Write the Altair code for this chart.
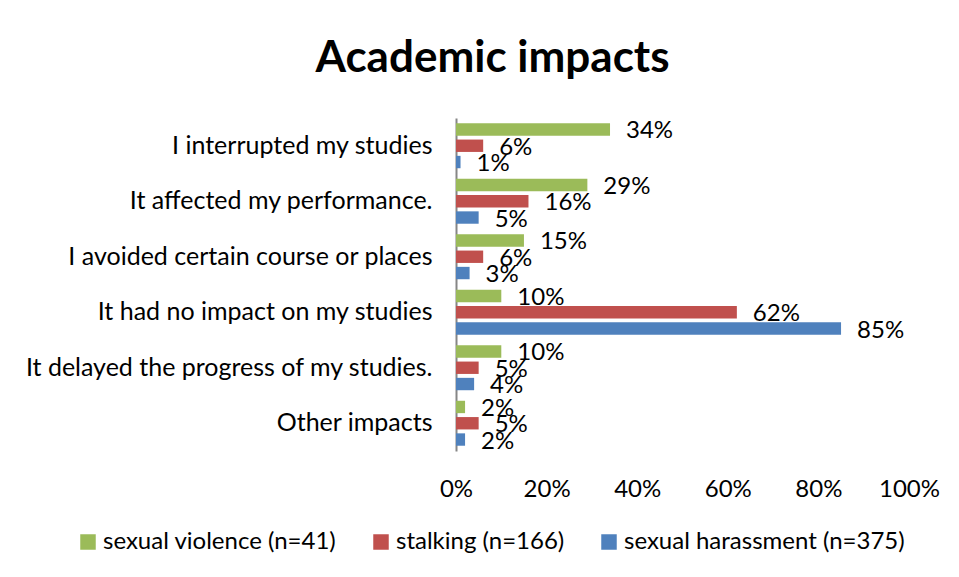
import altair as alt
import pandas as pd

categories = [
    "I interrupted my studies",
    "It affected my performance.",
    "I avoided certain course or places",
    "It had no impact on my studies",
    "It delayed the progress of my studies.",
    "Other impacts",
]
series = ["sexual violence (n=41)", "stalking (n=166)", "sexual harassment (n=375)"]
sexual_violence = [34, 29, 15, 10, 10, 2]
stalking = [6, 16, 6, 62, 5, 5]
sexual_harassment = [1, 5, 3, 85, 4, 2]
colors = ["#9BBB59", "#C0504D", "#4F81BD"]

rows = []
for i, c in enumerate(categories):
    for s, vals in zip(series, [sexual_violence, stalking, sexual_harassment]):
        rows.append({"category": c, "series": s, "value": vals[i] / 100, "label": f"{vals[i]}%"})
df = pd.DataFrame(rows)

FONT = "Lato"

y_enc = alt.Y("category:N", sort=categories,
              scale=alt.Scale(paddingInner=0.19, paddingOuter=0.095),
              axis=alt.Axis(title=None, ticks=False, domainColor="#868686", domainWidth=2,
                            labelFontSize=25, labelColor="black", labelPadding=24,
                            labelLimit=600, labelFont=FONT))
yoff = alt.YOffset("series:N", sort=series, scale=alt.Scale(paddingInner=0.24))
x_enc = alt.X("value:Q", scale=alt.Scale(domain=[0, 1]),
              axis=alt.Axis(title=None, values=[0, 0.2, 0.4, 0.6, 0.8, 1.0], format=".0%",
                            domain=False, ticks=False, grid=False, labelFontSize=24,
                            labelColor="black", labelPadding=26, labelFont=FONT,
                            labelFlush=False, labelOverlap=False))

base = alt.Chart(df)
bars = base.mark_bar().encode(
    y=y_enc, yOffset=yoff, x=x_enc,
    color=alt.Color("series:N", sort=series, scale=alt.Scale(domain=series, range=colors),
                    legend=alt.Legend(title=None, orient="none", direction="horizontal",
                                      legendX=-380, legendY=412, symbolType="square",
                                      symbolSize=240, symbolStrokeWidth=0, labelFontSize=24,
                                      labelFont=FONT, labelColor="black", columnPadding=32,
                                      symbolOpacity=1, labelOffset=3, labelLimit=600)),
)
texts = base.mark_text(align="left", baseline="middle", dx=16, dy=2, fontSize=24,
                       font=FONT, color="black").encode(
    y=alt.Y("category:N", sort=categories), yOffset=yoff, x="value:Q", text="label:N")

chart = alt.layer(bars, texts).properties(
    width=453, height=333,
    padding={"left": 448, "top": 110, "right": 42, "bottom": 118},
    autosize=alt.AutoSizeParams(type="none"),
    title=alt.TitleParams("Academic impacts", fontSize=44, font=FONT, fontWeight="bold",
                          color="black", dx=-190, offset=37),
).configure(background="white").configure_view(strokeWidth=0, stroke=None)

chart.save("out.html", embed_options={"renderer": "svg", "actions": False})
